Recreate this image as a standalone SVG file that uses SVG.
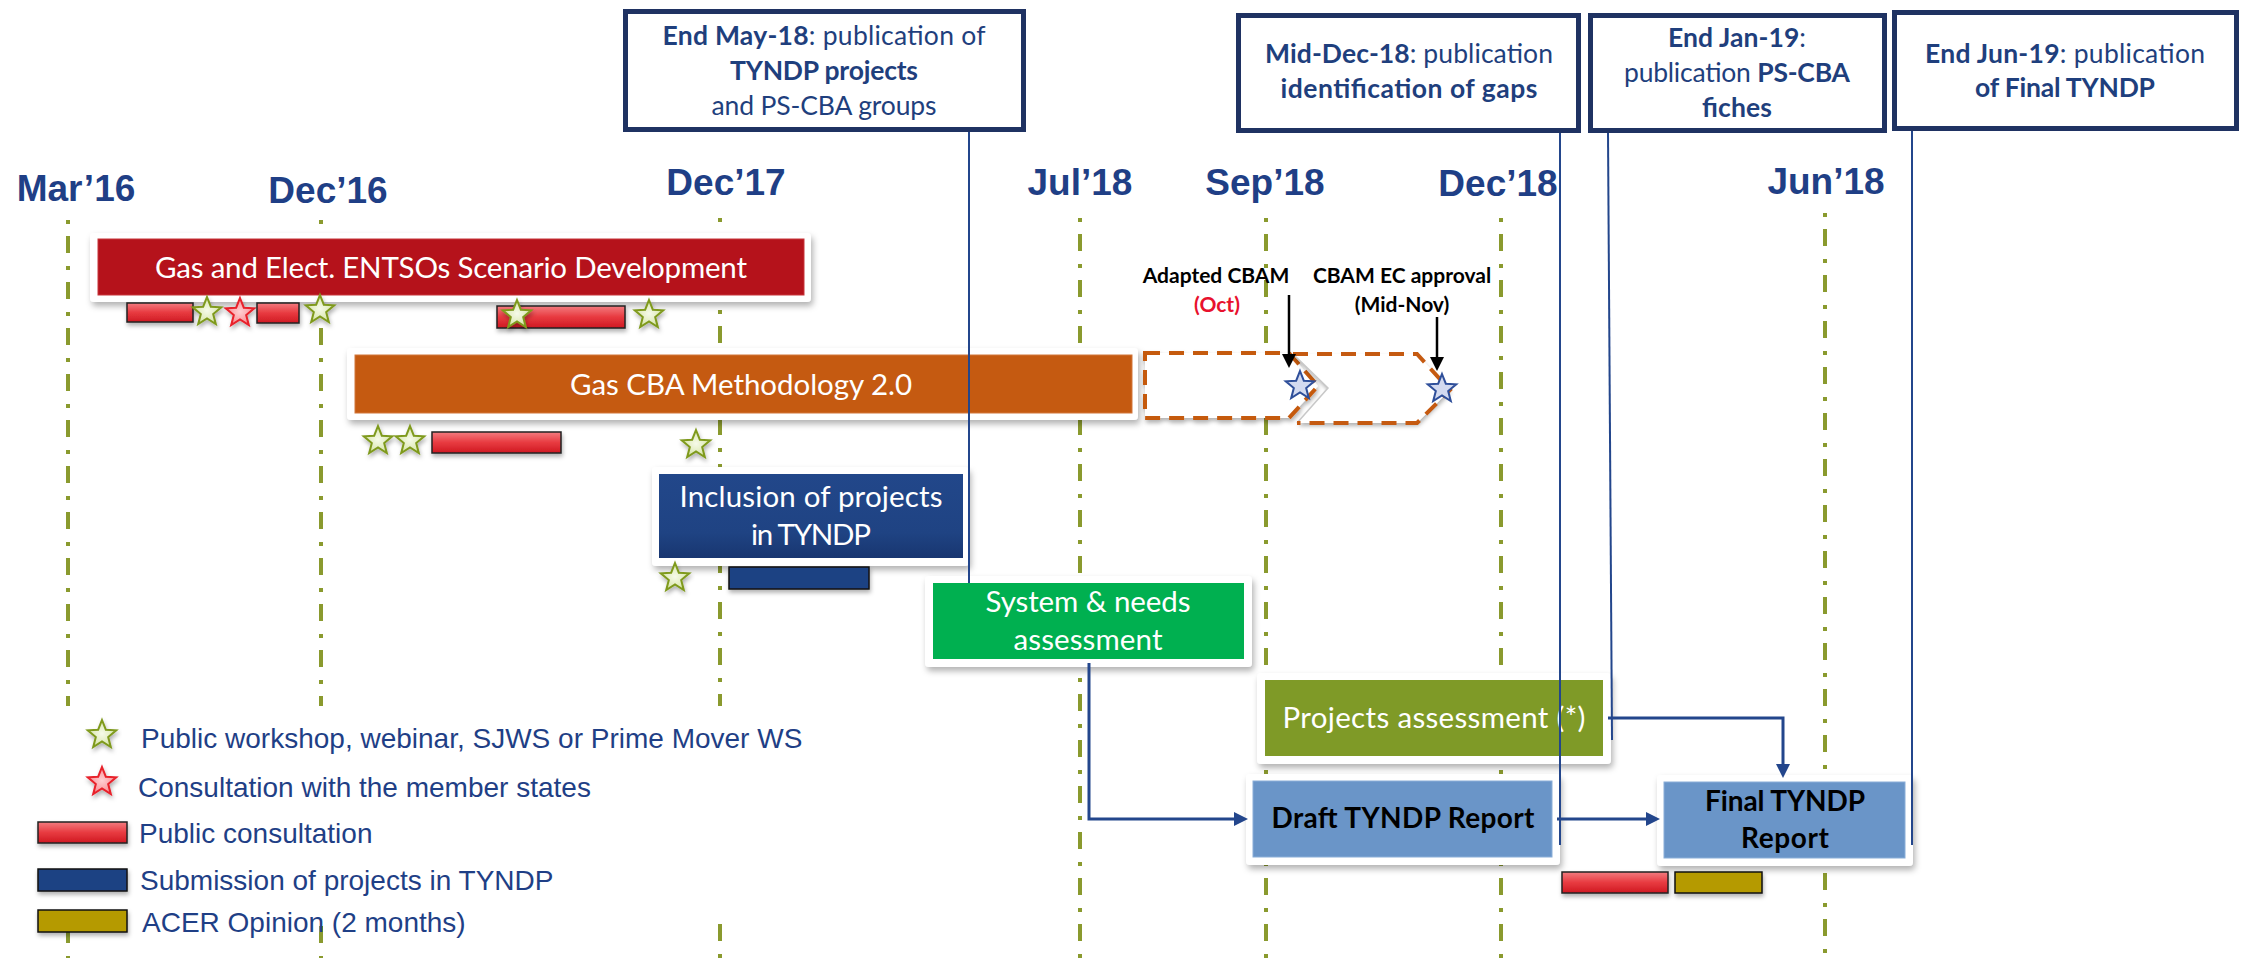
<svg xmlns="http://www.w3.org/2000/svg" xmlns:xlink="http://www.w3.org/1999/xlink" width="2241" height="958" viewBox="0 0 2241 958">
<defs>
<style>
.mon{font-family:'Liberation Sans',Arial,sans-serif;font-weight:bold;font-size:37px;fill:#1F3F86;text-anchor:middle}
.leg{font-family:'Liberation Sans',Arial,sans-serif;font-size:28px;fill:#1F3F86}
.ms{font-family:Lato,'Open Sans',sans-serif;font-size:26.5px;fill:#1F3F7D;text-anchor:middle}
.b{font-weight:bold}
.bt{font-family:Lato,'Open Sans',sans-serif;font-size:29.5px;fill:#fff;text-anchor:middle}
.dk{font-family:Lato,'Open Sans',sans-serif;font-size:28px;font-weight:bold;fill:#000;text-anchor:middle}
.cb{font-family:Lato,'Open Sans',sans-serif;font-size:21px;font-weight:bold;fill:#000;text-anchor:middle}
.grid{stroke:#8A9A2E;stroke-width:4;stroke-dasharray:4 12 17 13;fill:none}
.card{fill:#fff;filter:url(#sh)}
.msbox{fill:#fff;stroke:#1F3262;stroke-width:5}
.conn{stroke:#23468C;stroke-width:2;fill:none}
.flow{stroke:#23468C;stroke-width:3;fill:none;marker-end:url(#ah)}
.blk{stroke:#000;stroke-width:2.5;fill:none;marker-end:url(#bh)}
.rbar{fill:url(#rg);stroke:#222;stroke-width:1.5;filter:url(#sh2)}
.bbar{fill:#1F4383;stroke:#111;stroke-width:1.5;filter:url(#sh2)}
.gbar{fill:#B59A00;stroke:#111;stroke-width:1.5;filter:url(#sh2)}
.gstar{fill:url(#gsg);stroke:#7F9A1F;stroke-width:2;filter:url(#sh2)}
.rstar{fill:url(#rsg);stroke:#E8202A;stroke-width:2;filter:url(#sh2)}
.bstar{fill:#D3DAF0;stroke:#2F4F9A;stroke-width:2}
.chev{fill:#fff;stroke:#C55A11;stroke-width:4;stroke-dasharray:15 9}
</style>
<filter id="sh" x="-10%" y="-20%" width="120%" height="150%">
<feDropShadow dx="2" dy="4" stdDeviation="3" flood-color="#000" flood-opacity="0.3"/>
</filter>
<filter id="sh2" x="-20%" y="-30%" width="140%" height="180%">
<feDropShadow dx="1" dy="3" stdDeviation="2" flood-color="#000" flood-opacity="0.3"/>
</filter>
<linearGradient id="rg" x1="0" y1="0" x2="0" y2="1">
<stop offset="0" stop-color="#F37C80"/>
<stop offset="0.5" stop-color="#E83A40"/>
<stop offset="1" stop-color="#CF1A22"/>
</linearGradient>
<linearGradient id="ig" x1="0" y1="0" x2="0" y2="1">
<stop offset="0" stop-color="#22478A"/>
<stop offset="0.7" stop-color="#1F4383"/>
<stop offset="1" stop-color="#183670"/>
</linearGradient>
<radialGradient id="gsg">
<stop offset="0" stop-color="#F6FAEA"/>
<stop offset="1" stop-color="#D6E5A6"/>
</radialGradient>
<radialGradient id="rsg">
<stop offset="0" stop-color="#FFD0D3"/>
<stop offset="1" stop-color="#F88C92"/>
</radialGradient>
<path id="star" d="M0,-15 L3.82,-5.26 L14.27,-4.64 L6.18,2.01 L8.82,12.14 L0,6.5 L-8.82,12.14 L-6.18,2.01 L-14.27,-4.64 L-3.82,-5.26 Z"/>
<marker id="ah" markerUnits="userSpaceOnUse" markerWidth="16" markerHeight="16" refX="2" refY="7" orient="auto">
<path d="M0,0 L14,7 L0,14 Z" fill="#23468C"/>
</marker>
<marker id="bh" markerUnits="userSpaceOnUse" markerWidth="16" markerHeight="16" refX="2" refY="7" orient="auto">
<path d="M0,0 L14,7 L0,14 Z" fill="#000"/>
</marker>
</defs>
<rect width="2241" height="958" fill="#fff"/>

<g id="grid">
<line class="grid" x1="68" y1="220" x2="68" y2="958"/>
<line class="grid" x1="321" y1="220" x2="321" y2="958"/>
<line class="grid" x1="720" y1="218" x2="720" y2="958"/>
<line class="grid" x1="1080" y1="218" x2="1080" y2="958"/>
<line class="grid" x1="1266" y1="218" x2="1266" y2="958"/>
<line class="grid" x1="1501" y1="218" x2="1501" y2="958"/>
<line class="grid" x1="1825" y1="213" x2="1825" y2="958"/>
</g>

<g id="months">
<text class="mon" x="76" y="201">Mar’16</text>
<text class="mon" x="328" y="203">Dec’16</text>
<text class="mon" x="726" y="195">Dec’17</text>
<text class="mon" x="1080" y="195">Jul’18</text>
<text class="mon" x="1265" y="195">Sep’18</text>
<text class="mon" x="1498" y="196">Dec’18</text>
<text class="mon" x="1826" y="194">Jun’18</text>
</g>

<g id="ms-may18">
<rect class="msbox" x="625.5" y="11.5" width="398" height="118"/>
<text class="ms" x="824" y="45" textLength="323"><tspan class="b">End May-18</tspan>: publication of</text>
<text class="ms b" x="824" y="80" textLength="188">TYNDP projects</text>
<text class="ms" x="824" y="115" textLength="225">and PS-CBA groups</text>
</g>
<g id="ms-dec18">
<rect class="msbox" x="1238.5" y="15.5" width="340" height="115"/>
<text class="ms" x="1409" y="63" textLength="288"><tspan class="b">Mid-Dec-18</tspan>: publication</text>
<text class="ms b" x="1409" y="98" textLength="257">identification of gaps</text>
</g>
<g id="ms-jan19">
<rect class="msbox" x="1590.5" y="15.5" width="294" height="115"/>
<text class="ms" x="1737" y="47" textLength="138"><tspan class="b">End Jan-19</tspan>:</text>
<text class="ms" x="1737" y="82" textLength="226">publication <tspan class="b">PS-CBA</tspan></text>
<text class="ms b" x="1737" y="117" textLength="70">fiches</text>
</g>
<g id="ms-jun19">
<rect class="msbox" x="1894.5" y="12.5" width="342" height="116"/>
<text class="ms" x="2065" y="63" textLength="280"><tspan class="b">End Jun-19</tspan>: publication</text>
<text class="ms b" x="2065" y="97" textLength="180">of Final TYNDP</text>
</g>

<g id="scenario">
<rect class="card" x="90" y="233" width="721" height="69" rx="4"/>
<rect x="98" y="239" width="706" height="56" fill="#B5121B" stroke="#C8343B" stroke-width="1"/>
<text class="bt" x="451" y="278" textLength="592">Gas and Elect. ENTSOs Scenario Development</text>
</g>
<g id="scenario-events">
<rect class="rbar" x="127" y="303" width="66" height="19"/>
<use href="#star" class="gstar" x="207" y="312"/>
<use href="#star" class="rstar" x="240" y="313"/>
<rect class="rbar" x="257" y="303" width="42" height="20"/>
<use href="#star" class="gstar" x="320" y="310"/>
<rect class="rbar" x="497" y="306" width="128" height="22"/>
<use href="#star" class="gstar" x="517" y="315"/>
<use href="#star" class="gstar" x="649" y="315"/>
</g>

<g id="cba">
<rect class="card" x="347" y="348" width="791" height="72" rx="4"/>
<rect x="355" y="355" width="777" height="58" fill="#C55A11" stroke="#D2773A" stroke-width="1"/>
<text class="bt" x="741" y="395" textLength="342">Gas CBA Methodology 2.0</text>
</g>
<g id="cba-events">
<use href="#star" class="gstar" x="378" y="441"/>
<use href="#star" class="gstar" x="410" y="441"/>
<rect class="rbar" x="432" y="432" width="129" height="21"/>
<use href="#star" class="gstar" x="696" y="445"/>
</g>

<g id="cba-ext">
<path class="chev" d="M1145,353 L1289,353 L1318,386 L1289,418 L1145,418 Z" filter="url(#sh2)"/>
<path d="M1293,354 L1417,354 L1450,390 L1417,423 L1297,423 L1328,388 Z" fill="#fff" filter="url(#sh2)"/>
<path d="M1297,423 L1328,388 L1293,354" fill="none" stroke="#C8C8C8" stroke-width="1.5"/>
<path d="M1293,354 L1417,354 L1450,390 L1417,423 L1297,423" fill="none" stroke="#C55A11" stroke-width="4" stroke-dasharray="15 9"/>
<use href="#star" class="bstar" x="1300" y="386"/>
<use href="#star" class="bstar" x="1442" y="389"/>
</g>

<g id="cbam-labels">
<text class="cb" x="1216" y="283">Adapted CBAM</text>
<text class="cb" x="1217" y="312" style="fill:#E8112D">(Oct)</text>
<text class="cb" x="1402" y="283">CBAM EC approval</text>
<text class="cb" x="1402" y="312">(Mid-Nov)</text>
<path class="blk" d="M1289,295 V356"/>
<path class="blk" d="M1437,317 V359"/>
</g>

<g id="inclusion">
<rect class="card" x="652" y="467" width="317" height="99" rx="4"/>
<rect x="659" y="474" width="304" height="84" fill="url(#ig)"/>
<text class="bt" x="811" y="507" textLength="263">Inclusion of projects</text>
<text class="bt" x="811" y="545" textLength="120">in TYNDP</text>
</g>
<g id="inclusion-events">
<use href="#star" class="gstar" x="675" y="578"/>
<rect class="bbar" x="729" y="567" width="140" height="22"/>
</g>

<g id="system">
<rect class="card" x="925" y="576" width="327" height="91" rx="4"/>
<rect x="933" y="583" width="311" height="76" fill="#00B050"/>
<text class="bt" x="1088" y="612" textLength="205">System &amp; needs</text>
<text class="bt" x="1088" y="650" textLength="149">assessment</text>
</g>

<g id="projects">
<rect class="card" x="1257" y="673" width="354" height="91" rx="4"/>
<rect x="1265" y="680" width="338" height="76" fill="#7F9A27"/>
<text class="bt" x="1434" y="728" textLength="303">Projects assessment (*)</text>
</g>

<g id="draft">
<rect class="card" x="1246" y="774" width="314" height="91" rx="4"/>
<rect x="1253" y="781" width="299" height="76" fill="#6A95C8" stroke="#8AAED8" stroke-width="1"/>
<text class="dk" x="1403" y="828" textLength="263">Draft TYNDP Report</text>
</g>

<g id="final">
<rect class="card" x="1657" y="775" width="256" height="91" rx="4"/>
<rect x="1664" y="782" width="241" height="76" fill="#6A95C8" stroke="#8AAED8" stroke-width="1"/>
<text class="dk" x="1785" y="811" textLength="160">Final TYNDP</text>
<text class="dk" x="1785" y="848" textLength="88">Report</text>
</g>
<g id="final-events">
<rect class="rbar" x="1562" y="872" width="106" height="21"/>
<rect class="gbar" x="1675" y="872" width="87" height="21"/>
</g>

<g id="legend">
<rect x="0" y="706" width="745" height="216" fill="#fff"/>
<use href="#star" class="gstar" x="102" y="735"/>
<text class="leg" x="141" y="748">Public workshop, webinar, SJWS or Prime Mover WS</text>
<use href="#star" class="rstar" x="102" y="782"/>
<text class="leg" x="138" y="797">Consultation with the member states</text>
<rect class="rbar" x="38" y="822" width="89" height="21"/>
<text class="leg" x="139" y="843">Public consultation</text>
<rect class="bbar" x="38" y="869" width="89" height="22"/>
<text class="leg" x="140" y="890">Submission of projects in TYNDP</text>
<rect class="gbar" x="38" y="910" width="89" height="22"/>
<text class="leg" x="142" y="932">ACER Opinion (2 months)</text>
</g>

<g id="connectors">
<path class="conn" d="M969,132 V583"/>
<path class="conn" d="M1560,133 V845"/>
<path class="conn" d="M1608,133 L1612,740"/>
<path class="conn" d="M1912,131 V845"/>
<path class="flow" d="M1089,663 V819 H1236"/>
<path class="flow" d="M1557,819 H1648"/>
<path class="flow" d="M1608,718 H1783 V766"/>
</g>
</svg>
